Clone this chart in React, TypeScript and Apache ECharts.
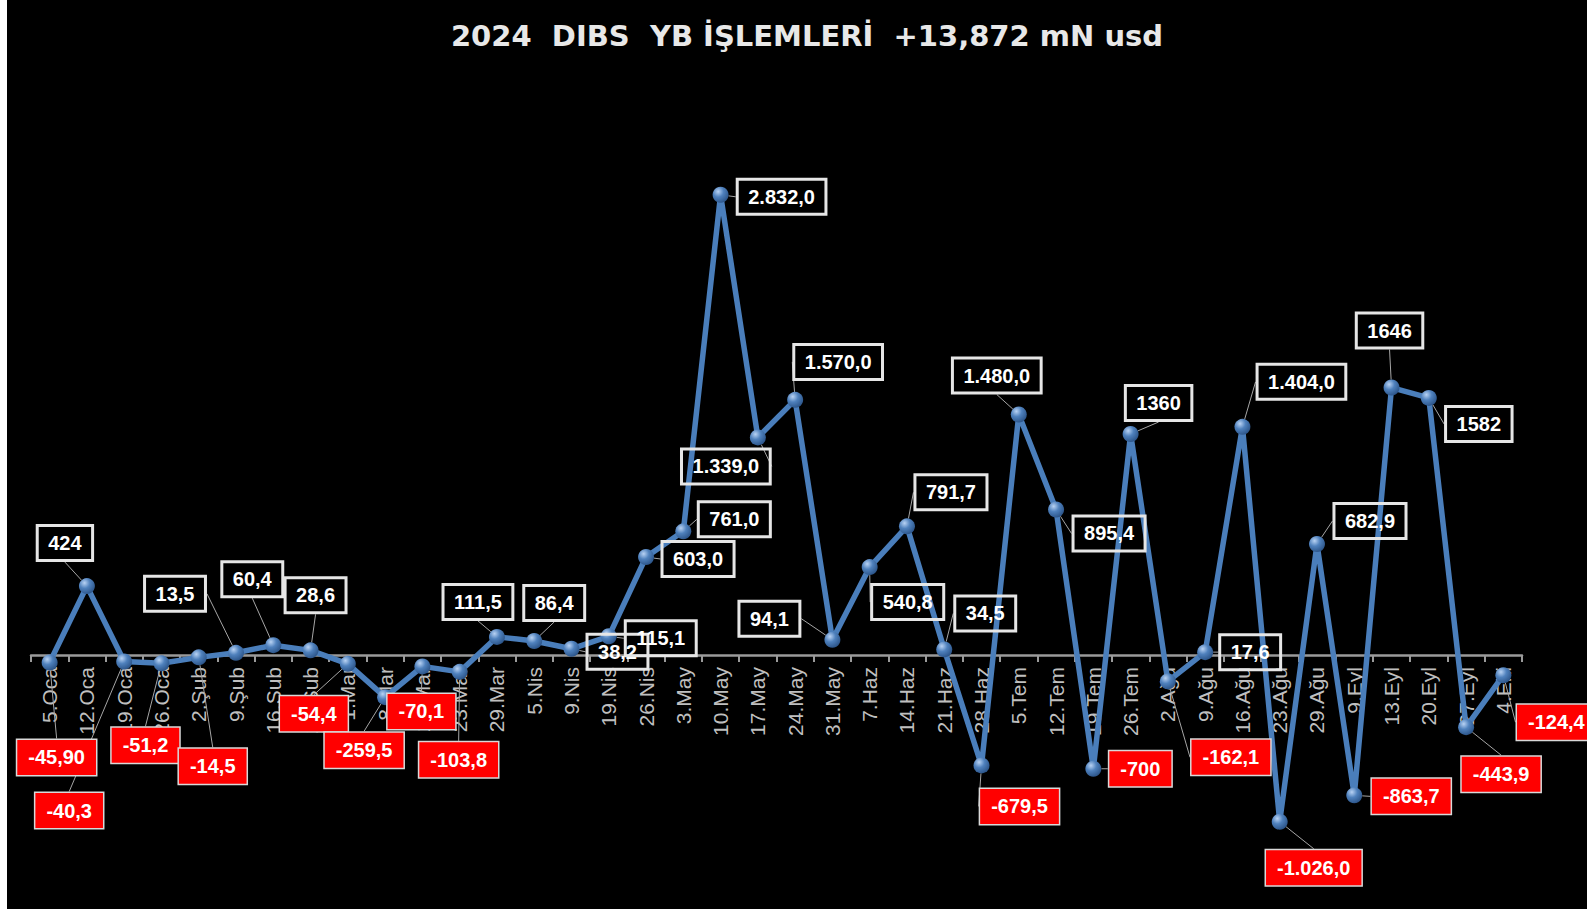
import React, { useEffect, useRef } from "react";
import * as echarts from "echarts";

const titleText = "2024  DIBS  YB İŞLEMLERİ  +13,872 mN usd";

const categories = [
  "5.Oca", "12.Oca", "19.Oca", "26.Oca", "2.Şub", "9.Şub", "16.Şub", "23.Şub",
  "1.Mar", "8.Mar", "15.Mar", "23.Mar", "29.Mar", "5.Nis", "9.Nis", "19.Nis",
  "26.Nis", "3.May", "10.May", "17.May", "24.May", "31.May", "7.Haz", "14.Haz",
  "21.Haz", "28.Haz", "5.Tem", "12.Tem", "19.Tem", "26.Tem", "2.Ağu", "9.Ağu",
  "16.Ağu", "23.Ağu", "29.Ağu", "9.Eyl", "13.Eyl", "20.Eyl", "27.Eyl", "4.Eki",
];

const values = [
  -45.9, 424, -40.3, -51.2, -14.5, 13.5, 60.4, 28.6,
  -54.4, -259.5, -70.1, -103.8, 111.5, 86.4, 38.2, 115.1,
  603.0, 761.0, 2832.0, 1339.0, 1570.0, 94.1, 540.8, 791.7,
  34.5, -679.5, 1480.0, 895.4, -700, 1360, -162.1, 17.6,
  1404.0, -1026.0, 682.9, -863.7, 1646, 1582, -443.9, -124.4,
];

const labelTexts = [
  "-45,90", "424", "-40,3", "-51,2", "-14,5", "13,5", "60,4", "28,6",
  "-54,4", "-259,5", "-70,1", "-103,8", "111,5", "86,4", "38,2", "115,1",
  "603,0", "761,0", "2.832,0", "1.339,0", "1.570,0", "94,1", "540,8", "791,7",
  "34,5", "-679,5", "1.480,0", "895,4", "-700", "1360", "-162,1", "17,6",
  "1.404,0", "-1.026,0", "682,9", "-863,7", "1646", "1582", "-443,9", "-124,4",
];

// label box centre offsets from each point (pixels) – layout only
const labelOffsets: [number, number][] = [
  [7, 95], [-22, -43], [-55, 149], [-16, 82], [14, 109], [-61, -59], [-21, -66], [5, -55],
  [-34, 50], [-21, 53], [-1, 45], [-1, 88], [-19, -35], [20, -38], [46, 3], [52, 2],
  [52, 2], [51, -12], [61, 2], [-32, 29], [43, -38], [-63, -21], [38, 35], [44, -34],
  [41, -36], [38, 41], [-22, -39], [53, 24], [47, 0], [28, -31], [63, 76], [45, 0],
  [59, -45], [34, 46], [53, -23], [57, 1], [-2, -57], [50, 26], [35, 47], [53, 47],
];

const Y_MIN = -1200;
const Y_MAX = 3000;
const GRID_TOP = 167.5;
const GRID_BOTTOM = 59;
const CHART_H = 909;

export default function App() {
  const ref = useRef<HTMLDivElement>(null);

  useEffect(() => {
    if (!ref.current) return;
    const chart = echarts.init(ref.current, null, { renderer: "svg" });

    const gridH = CHART_H - GRID_TOP - GRID_BOTTOM;
    const zeroShift = (-Y_MIN / (Y_MAX - Y_MIN)) * gridH; // move axis from grid bottom up to value 0

    const data = values.map((v) => ({
      value: v,
      label: {
        backgroundColor: v < 0 ? "#ff0000" : "transparent",
        borderColor: v < 0 ? "#d9d9d9" : "#e6e6e6",
      },
    }));

    chart.setOption({
      animation: false,
      backgroundColor: "#000000",
      title: {
        text: titleText,
        left: 795,
        textAlign: "center",
        top: 16,
        textStyle: {
          color: "#e8e8e8",
          fontSize: 29,
          fontWeight: "bold",
          fontFamily: "DejaVu Sans",
        },
      },
      grid: {
        left: 24,
        right: 65,
        top: GRID_TOP,
        bottom: GRID_BOTTOM,
        containLabel: false,
        outerBoundsMode: "none",
      },
      xAxis: {
        type: "category",
        data: categories,
        boundaryGap: true,
        offset: -zeroShift,
        axisLine: { show: true, onZero: false, lineStyle: { color: "#9a9a9a", width: 2.5 } },
        axisTick: { show: true, length: 7, lineStyle: { color: "#9a9a9a", width: 2 } },
        axisLabel: {
          interval: 0,
          rotate: 90,
          color: "#bfbfbf",
          fontSize: 21,
          fontFamily: "Liberation Sans",
          margin: 12,
        },
        splitLine: { show: false },
      },
      yAxis: {
        type: "value",
        show: false,
        min: Y_MIN,
        max: Y_MAX,
        splitLine: { show: false },
      },
      series: [
        {
          type: "line",
          data,
          lineStyle: { color: "#4a7ebb", width: 5.5 },
          symbol: "circle",
          symbolSize: 16,
          itemStyle: {
            color: new echarts.graphic.RadialGradient(0.35, 0.3, 0.75, [
              { offset: 0, color: "#b8d2f3" },
              { offset: 0.45, color: "#4f81bd" },
              { offset: 1, color: "#2a5286" },
            ]),
          },
          label: {
            show: true,
            position: "inside",
            formatter: (p: any) => labelTexts[p.dataIndex],
            color: "#ffffff",
            fontSize: 20,
            fontWeight: "bold",
            fontFamily: "Liberation Sans",
            padding: [8, 11, 7, 11],
            borderWidth: 1.5,
          },
          labelLine: {
            show: true,
            lineStyle: { color: "#a6a6a6", width: 1 },
          },
          labelLayout: (p: any) => {
            const o = labelOffsets[p.dataIndex];
            return { dx: o[0], dy: o[1] };
          },
        },
      ],
    });

    return () => chart.dispose();
  }, []);

  return (
    <div
      ref={ref}
      style={{ position: "fixed", left: 7, top: 0, width: 1580, height: CHART_H }}
    />
  );
}
